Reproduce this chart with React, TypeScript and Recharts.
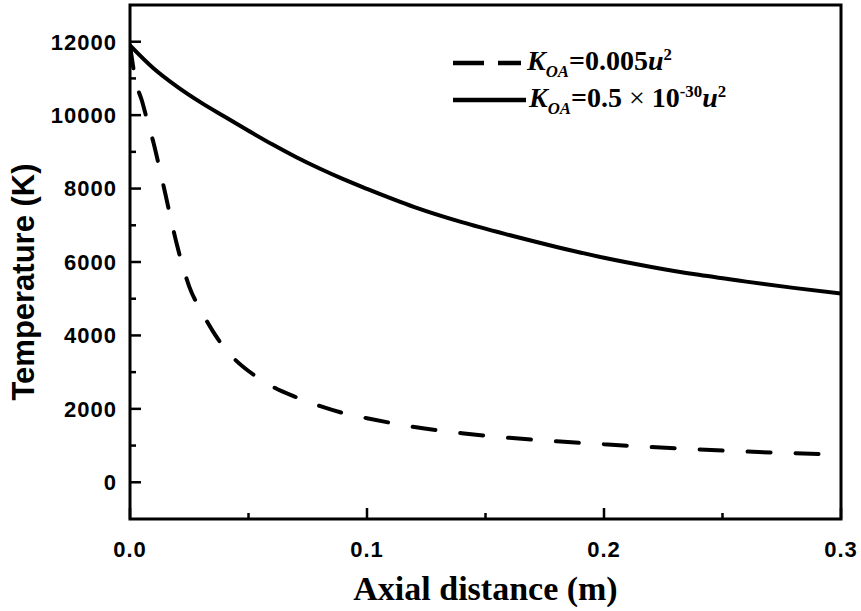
import React from 'react';
import { LineChart, Line, XAxis, YAxis, ReferenceArea, Legend, Label } from 'recharts';

// Dashed series: K_OA = 0.005 u^2
const dashedDistance = [0, 0.0025, 0.005, 0.0075, 0.01, 0.0125, 0.015, 0.0175, 0.02, 0.0225, 0.025, 0.03, 0.035, 0.04, 0.045, 0.05, 0.06, 0.07, 0.08, 0.09, 0.1, 0.12, 0.14, 0.16, 0.18, 0.2, 0.22, 0.24, 0.26, 0.28, 0.3];
const dashedTemp = [11900, 10900, 10400, 9800, 9230, 8540, 7830, 7100, 6420, 5830, 5330, 4670, 4110, 3650, 3300, 3030, 2610, 2320, 2080, 1885, 1745, 1505, 1335, 1210, 1115, 1035, 960, 895, 837, 792, 752];

// Solid series: K_OA = 0.5 x 10^-30 u^2
const solidDistance = [0, 0.01, 0.02, 0.03, 0.04, 0.05, 0.06, 0.07, 0.08, 0.09, 0.1, 0.12, 0.14, 0.16, 0.18, 0.2, 0.22, 0.24, 0.26, 0.28, 0.3];
const solidTemp = [11900, 11270, 10770, 10340, 9955, 9575, 9205, 8860, 8545, 8255, 7990, 7495, 7085, 6735, 6410, 6115, 5865, 5650, 5465, 5295, 5140];

const xTicks = [0, 0.05, 0.1, 0.15, 0.2, 0.25, 0.3];
const yTicks = [0, 1000, 2000, 3000, 4000, 5000, 6000, 7000, 8000, 9000, 10000, 11000, 12000];
const xDomain = [0, 0.3];
const yDomain = [-1000, 13000];

const xTitle = 'Axial distance (m)';
const yTitle = 'Temperature (K)';
const seriesNames = ['dashed', 'solid'];

const dashedData = dashedDistance.map((x, i) => ({ x, t: dashedTemp[i] }));
const solidData = solidDistance.map((x, i) => ({ x, t: solidTemp[i] }));

const sansFont = '"Liberation Sans", Arial, Helvetica, sans-serif';
const serifFont = '"Liberation Serif", "Times New Roman", serif';

const YTick = (props: any) => {
  const { x, y, payload } = props;
  const v = payload.value;
  const major = v % 2000 === 0;
  return (
    <g>
      <line x1={x} x2={x + (major ? 11 : 6)} y1={y} y2={y} stroke="#000" strokeWidth={2.5} />
      {major && (
        <text x={x - 13} y={y} dy="0.36em" textAnchor="end" fontFamily={sansFont} fontWeight="bold" fontSize={22} letterSpacing={1} fill="#000">
          {v}
        </text>
      )}
    </g>
  );
};

const XTick = (props: any) => {
  const { x, y, payload, index } = props;
  const major = index % 2 === 0;
  return (
    <g>
      <line x1={x} x2={x} y1={y} y2={y - (major ? 11 : 6)} stroke="#000" strokeWidth={2.5} />
      {major && (
        <text x={x} y={y + 38} textAnchor="middle" fontFamily={sansFont} fontWeight="bold" fontSize={22} letterSpacing={1} fill="#000">
          {payload.value.toFixed(1)}
        </text>
      )}
    </g>
  );
};

const legendLabels: Record<string, React.ReactNode> = {
  dashed: (
    <span>
      <i>K</i>
      <sub style={{ fontSize: '0.6em' }}><i>OA</i></sub>=0.005<i>u</i>
      <sup style={{ fontSize: '0.6em' }}>2</sup>
    </span>
  ),
  solid: (
    <span>
      <i>K</i>
      <sub style={{ fontSize: '0.6em' }}><i>OA</i></sub>=0.5<span style={{ fontWeight: 'normal' }}> × </span>10
      <sup style={{ fontSize: '0.6em' }}>-30</sup>
      <i>u</i>
      <sup style={{ fontSize: '0.6em' }}>2</sup>
    </span>
  ),
};

const LegendContent = (props: any) => {
  const { payload } = props;
  return (
    <div style={{ fontFamily: serifFont, fontWeight: 'bold', fontSize: 28, color: '#000' }}>
      {(payload || []).map((entry: any) => {
        const dashed = entry.value === 'dashed';
        return (
          <div key={entry.value} style={{ display: 'flex', alignItems: 'center', height: 37, whiteSpace: 'nowrap' }}>
            <svg width={76} height={10} style={{ display: 'block' }}>
              <line x1={2} x2={dashed ? 70 : 75} y1={5} y2={5} stroke={entry.color} strokeWidth={4.5} strokeDasharray={dashed ? '31 14' : undefined} />
            </svg>
            <span style={{ marginLeft: dashed ? 0 : 2, lineHeight: '37px' }}>{legendLabels[entry.value]}</span>
          </div>
        );
      })}
    </div>
  );
};

export default function App() {
  return (
    <div style={{ position: 'absolute', left: 0, top: 0, background: '#fff' }}>
      <LineChart width={861} height={611} margin={{ top: 5, right: 20, left: 0, bottom: 0 }}>
        <XAxis
          dataKey="x"
          type="number"
          domain={xDomain}
          ticks={xTicks}
          interval={0}
          height={92}
          axisLine={false}
          tickLine={false}
          tickSize={0}
          tickMargin={0}
          tick={<XTick />}
          allowDataOverflow
        >
          <Label
            content={(p: any) => {
              const vb = p.viewBox;
              return (
                <text x={vb.x + vb.width / 2} y={600} textAnchor="middle" fontFamily={serifFont} fontWeight="bold" fontSize={34} fill="#000">
                  {xTitle}
                </text>
              );
            }}
          />
        </XAxis>
        <YAxis
          type="number"
          domain={yDomain}
          ticks={yTicks}
          interval={0}
          width={130}
          axisLine={false}
          tickLine={false}
          tickSize={0}
          tickMargin={0}
          tick={<YTick />}
          allowDataOverflow
        >
          <Label
            content={(p: any) => {
              const vb = p.viewBox;
              const cx = 34;
              const cy = vb.y + vb.height / 2 + 20;
              return (
                <text x={cx} y={cy} transform={`rotate(-90 ${cx} ${cy})`} textAnchor="middle" fontFamily={sansFont} fontWeight="bold" fontSize={31} fill="#000">
                  {yTitle}
                </text>
              );
            }}
          />
        </YAxis>
        <ReferenceArea x1={xDomain[0]} x2={xDomain[1]} y1={yDomain[0]} y2={yDomain[1]} fill="none" stroke="#000" strokeWidth={3} ifOverflow="visible" />
        <Line
          data={dashedData}
          dataKey="t"
          name={seriesNames[0]}
          type="monotone"
          stroke="#000"
          strokeWidth={4}
          strokeDasharray="23 25"
          strokeLinecap="round"
          dot={false}
          activeDot={false}
          isAnimationActive={false}
        />
        <Line
          data={solidData}
          dataKey="t"
          name={seriesNames[1]}
          type="monotone"
          stroke="#000"
          strokeWidth={4}
          dot={false}
          activeDot={false}
          isAnimationActive={false}
        />
        <Legend
          layout="horizontal"
          verticalAlign="middle"
          align="center"
          wrapperStyle={{ left: 451, top: 44, width: 'auto', height: 'auto' }}
          content={<LegendContent />}
        />
      </LineChart>
    </div>
  );
}
